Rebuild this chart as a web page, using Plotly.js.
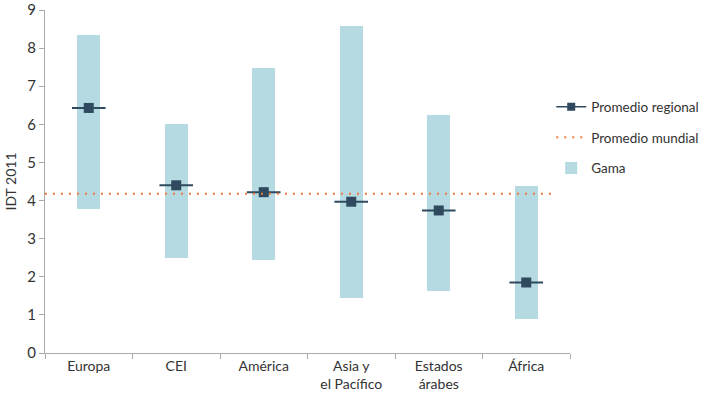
<!DOCTYPE html>
<html><head><meta charset="utf-8">
<script src="https://cdn.plot.ly/plotly-3.0.1.min.js"></script>
<style>html,body{margin:0;padding:0;background:#fff}</style>
</head><body><div id="chart" style="width:704px;height:398px"></div>
<script>
const categories = ["Europa", "CEI", "América", "Asia y<br>el Pacífico", "Estados<br>árabes", "África"];
const rangeMin = [3.77, 2.48, 2.44, 1.45, 1.63, 0.88];
const rangeMax = [8.34, 6.00, 7.49, 8.58, 6.24, 4.37];
const regionalMean = [6.43, 4.40, 4.22, 3.97, 3.74, 1.85];
const worldMean = [4.18];
const yTicks = [0,1,2,3,4,5,6,7,8,9];

const barColor = '#b5dae1';
const meanColor = '#2f4a5e';
const worldColor = '#f07a3c';
const font = 'Lato, "Open Sans", sans-serif';

const traces = [
  {type:'bar', x:categories, y:rangeMax.map((v,i)=>v-rangeMin[i]), base:rangeMin,
   width:0.26, marker:{color:barColor}, name:'Gama', showlegend:false, hoverinfo:'skip'},
  {type:'scatter', mode:'markers', x:categories, y:regionalMean, showlegend:false,
   marker:{symbol:'line-ew-open', size:24, color:meanColor, line:{width:2, color:meanColor}}, hoverinfo:'skip'},
  {type:'scatter', mode:'markers', x:categories, y:regionalMean, showlegend:false,
   marker:{symbol:'square', size:10, color:meanColor}},
  // legend entries
  {type:'scatter', mode:'lines+markers', x:[null], y:[null], name:'Promedio regional', legendgroup:'a',
   line:{color:meanColor, width:1.5}, marker:{symbol:'square', size:8, color:meanColor}},
  {type:'scatter', mode:'lines', x:[null], y:[null], name:'Promedio mundial', legendgroup:'b',
   line:{color:worldColor, width:2, dash:'2px,6px'}},
  {type:'scatter', mode:'markers', x:[null], y:[null], name:'Gama', legendgroup:'c',
   marker:{symbol:'square', size:12, color:barColor}}
];

const layout = {
  width:704, height:398,
  margin:{l:45, r:134, t:10, b:45, autoexpand:false},
  paper_bgcolor:'#fff', plot_bgcolor:'#fff',
  font:{family:font, color:'#333', size:14},
  showlegend:true,
  legend:{xref:'container', yref:'container', x:0.783, xanchor:'left', y:0.77, yanchor:'top',
          font:{size:13.5, color:'#333'}, tracegroupgap:10,
          bgcolor:'rgba(0,0,0,0)'},
  xaxis:{type:'category', range:[-0.5,5.5], showline:true, linecolor:'#aaa', linewidth:1,
         ticks:'outside', tickson:'boundaries', ticklen:5, tickcolor:'#aaa', automargin:false,
         showgrid:false, tickfont:{size:14, color:'#333'}, fixedrange:true},
  yaxis:{range:[0,9], tickvals:yTicks, ticktext:yTicks.map(String), showline:true, automargin:false,
         ticklabeloverflow:'allow',
         linecolor:'#aaa', linewidth:1, ticks:'outside', ticklen:5, tickcolor:'#aaa',
         showgrid:false, zeroline:false, tickfont:{size:15, color:'#333'},
         title:{text:'IDT 2011', font:{size:14, color:'#333'}, standoff:7}},
  shapes:[{type:'line', xref:'paper', yref:'y', x0:0, x1:0.965, y0:worldMean[0], y1:worldMean[0],
           line:{color:worldColor, width:2, dash:'2px,6px'}, layer:'above'}],
  bargap:0
};
Plotly.newPlot('chart', traces, layout, {displayModeBar:false, staticPlot:true});
</script></body></html>
